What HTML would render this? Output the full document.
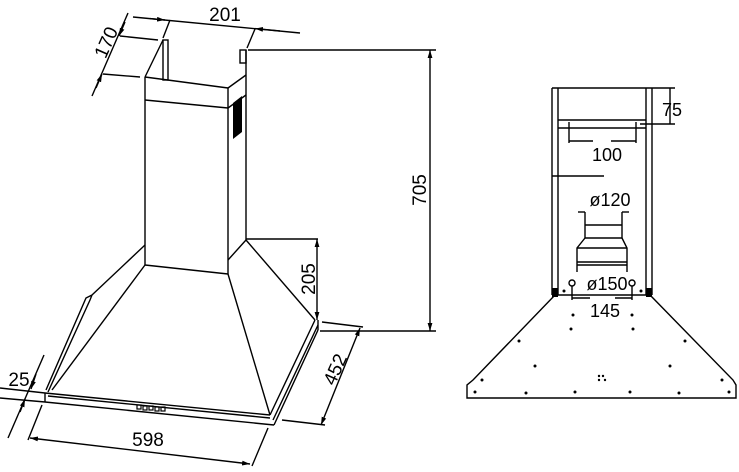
<!DOCTYPE html>
<html><head><style>body{margin:0;background:#fff}svg{display:block}text{font-family:"Liberation Sans",sans-serif;fill:#000}</style></head>
<body>
<svg width="739" height="472" viewBox="0 0 739 472" xmlns="http://www.w3.org/2000/svg">
<defs><marker id="a" viewBox="0 0 10 10" refX="10" refY="5" markerWidth="8" markerHeight="8" markerUnits="userSpaceOnUse" orient="auto-start-reverse"><path d="M0,2 L10,5 L0,8 z" fill="#000"/></marker></defs>
<g stroke="#000" stroke-width="1.4" fill="none">
<rect x="163" y="40" width="5" height="40"/>
<rect x="240" y="50" width="6" height="13"/>
<line x1="145" y1="77" x2="163" y2="40"/>
<line x1="228" y1="88" x2="246" y2="75"/>
<line x1="228" y1="108" x2="246" y2="95"/>
<line x1="145" y1="77" x2="228" y2="88"/>
<line x1="145" y1="100" x2="228" y2="108"/>
<line x1="145" y1="77" x2="145" y2="265"/>
<line x1="228" y1="88" x2="228" y2="274"/>
<line x1="246" y1="50" x2="246" y2="240"/>
<line x1="145" y1="265" x2="228" y2="274"/>
<line x1="145" y1="245" x2="92" y2="295"/>
<polyline points="92,295 90,300 48,392"/>
<polyline points="92,295 86,298 46,390"/>
<line x1="145" y1="265" x2="52" y2="390"/>
<line x1="228" y1="274" x2="270" y2="415"/>
<line x1="228" y1="260" x2="246" y2="240"/>
<line x1="246" y1="240" x2="315" y2="320"/>
<line x1="315" y1="320" x2="270" y2="415"/>
<line x1="318" y1="325" x2="273" y2="420"/>
<line x1="318" y1="320" x2="318" y2="330"/>
<line x1="318" y1="330" x2="274" y2="425"/>
<line x1="45" y1="393" x2="270" y2="415"/>
<line x1="48" y1="396" x2="270" y2="418"/>
<line x1="45" y1="402" x2="274" y2="425"/>
<line x1="45" y1="393" x2="45" y2="402"/>
<line x1="133" y1="17" x2="300" y2="33"/>
<line x1="150" y1="18.6" x2="165" y2="20" marker-end="url(#a)"/>
<line x1="280" y1="31" x2="255" y2="28.6" marker-end="url(#a)"/>
<line x1="170" y1="20" x2="163" y2="38"/>
<line x1="255" y1="29" x2="247" y2="48"/>
<line x1="128" y1="13" x2="92" y2="96"/>
<line x1="125" y1="22" x2="119" y2="36" marker-end="url(#a)"/>
<line x1="96" y1="88" x2="102" y2="74" marker-end="url(#a)"/>
<line x1="120" y1="36" x2="158" y2="40"/>
<line x1="103" y1="74" x2="140" y2="77"/>
<line x1="248" y1="50" x2="436" y2="50"/>
<line x1="320" y1="331" x2="436" y2="331"/>
<line x1="430" y1="50" x2="430" y2="331" marker-start="url(#a)" marker-end="url(#a)"/>
<line x1="246" y1="239" x2="318" y2="239"/>
<line x1="317" y1="239" x2="317" y2="320" marker-start="url(#a)" marker-end="url(#a)"/>
<line x1="322" y1="322" x2="363" y2="327"/>
<line x1="360" y1="328" x2="321" y2="425" marker-start="url(#a)" marker-end="url(#a)"/>
<line x1="282" y1="420" x2="325" y2="425"/>
<line x1="30" y1="438" x2="250" y2="464" marker-start="url(#a)" marker-end="url(#a)"/>
<line x1="42" y1="405" x2="28" y2="440"/>
<line x1="268" y1="428" x2="252" y2="466"/>
<line x1="44" y1="355" x2="8" y2="438"/>
<line x1="36" y1="374" x2="31" y2="389" marker-end="url(#a)"/>
<line x1="20" y1="412" x2="25" y2="399" marker-end="url(#a)"/>
<line x1="0" y1="388" x2="45" y2="393"/>
<line x1="0" y1="398" x2="45" y2="402"/>
</g>
<polygon points="233,103 242,96 242,132 233,139" fill="#000"/>
<g fill="none" stroke="#000" stroke-width="1.2"><rect x="137" y="405" width="4" height="4"/><rect x="143" y="406" width="4" height="4"/><rect x="149" y="406" width="4" height="4"/><rect x="155" y="407" width="4" height="4"/><rect x="161" y="407" width="4" height="4"/></g>
<text x="225" y="21" font-size="19" text-anchor="middle">201</text>
<text x="0" y="0" font-size="19" text-anchor="middle" transform="translate(112,45) rotate(-66)">170</text>
<text x="0" y="0" font-size="19" text-anchor="middle" transform="translate(426,190) rotate(-90)">705</text>
<text x="0" y="0" font-size="19" text-anchor="middle" transform="translate(315,279) rotate(-90)">205</text>
<text x="0" y="0" font-size="19" text-anchor="middle" transform="translate(341,372) rotate(-66)">452</text>
<text x="148" y="446" font-size="19" text-anchor="middle">598</text>
<text x="19" y="386" font-size="19" text-anchor="middle">25</text>
<g stroke="#000" stroke-width="1.4" fill="none">
<line x1="552" y1="88" x2="652" y2="88"/>
<line x1="552" y1="88" x2="552" y2="295"/><line x1="558" y1="88" x2="558" y2="295"/>
<line x1="646" y1="88" x2="646" y2="295"/><line x1="652" y1="88" x2="652" y2="295"/>
<line x1="558" y1="120" x2="646" y2="120"/><line x1="558" y1="128" x2="646" y2="128"/>
<line x1="640" y1="124" x2="675" y2="124"/><line x1="652" y1="88" x2="675" y2="88"/>
<line x1="670" y1="88" x2="670" y2="124"/>
<line x1="569" y1="122" x2="569" y2="143"/><line x1="636" y1="122" x2="636" y2="143"/>
<line x1="569" y1="141" x2="593" y2="141"/><line x1="611" y1="141" x2="636" y2="141"/>
<line x1="552" y1="176" x2="604" y2="176"/>
<line x1="578" y1="212" x2="585" y2="212"/><line x1="622" y1="212" x2="629" y2="212"/>
<line x1="585" y1="212" x2="585" y2="238"/><line x1="622" y1="212" x2="622" y2="238"/>
<line x1="585" y1="225" x2="622" y2="225"/><line x1="585" y1="238" x2="622" y2="238"/>
<polyline points="585,238 577,248 577,272"/><polyline points="622,238 627,248 627,272"/>
<line x1="577" y1="248" x2="627" y2="248"/><line x1="577" y1="262" x2="627" y2="262"/><line x1="577" y1="265" x2="627" y2="265"/>
<circle cx="572" cy="283" r="3"/><circle cx="632" cy="283" r="3"/>
<line x1="572" y1="286" x2="572" y2="300"/><line x1="632" y1="286" x2="632" y2="300"/>
<line x1="572" y1="298" x2="590" y2="298"/><line x1="615" y1="298" x2="632" y2="298"/>
<polygon points="555,295 473,380 467,385 467,398 736,398 736,385 733,380 650,295"/>
</g>
<rect x="552" y="288" width="6" height="9" fill="#000"/><rect x="646" y="288" width="6" height="9" fill="#000"/>
<text x="662" y="116" font-size="18">75</text>
<text x="607" y="161" font-size="18" text-anchor="middle">100</text>
<text x="610" y="206" font-size="18" text-anchor="middle">ø120</text>
<text x="607" y="290" font-size="18" text-anchor="middle">ø150</text>
<text x="605" y="317" font-size="18" text-anchor="middle">145</text>
<g fill="#000">
<circle cx="564" cy="291" r="1.5"/><circle cx="641" cy="291" r="1.5"/>
<circle cx="573" cy="315" r="1.5"/><circle cx="632" cy="315" r="1.5"/>
<circle cx="571" cy="329" r="1.5"/><circle cx="633" cy="329" r="1.5"/>
<circle cx="519" cy="341" r="1.5"/><circle cx="685" cy="341" r="1.5"/>
<circle cx="535" cy="366" r="1.5"/><circle cx="670" cy="366" r="1.5"/>
<circle cx="482" cy="380" r="1.5"/><circle cx="722" cy="380" r="1.5"/>
<circle cx="599" cy="376" r="1.2"/><circle cx="603" cy="376" r="1.2"/><circle cx="599" cy="380" r="1.2"/><circle cx="605" cy="380" r="1.2"/>
<circle cx="475" cy="392" r="1.5"/><circle cx="526" cy="393" r="1.5"/><circle cx="575" cy="392" r="1.5"/><circle cx="630" cy="392" r="1.5"/><circle cx="679" cy="393" r="1.5"/><circle cx="729" cy="392" r="1.5"/>
</g>
</svg>
</body></html>
